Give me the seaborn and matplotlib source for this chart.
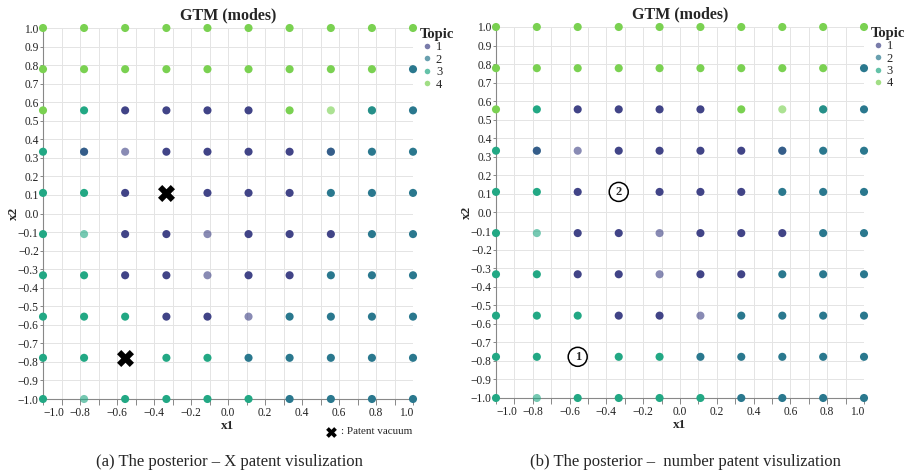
import numpy as np
import pandas as pd
import matplotlib
matplotlib.use("Agg")
import matplotlib.pyplot as plt
import seaborn as sns
from matplotlib.lines import Line2D

# ---------------- data ----------------
grid_x = [-1.0, -0.778, -0.556, -0.333, -0.111, 0.111, 0.333, 0.556, 0.778, 1.0]
grid_y = [1.0, 0.778, 0.556, 0.333, 0.111, -0.111, -0.333, -0.556, -0.778, -1.0]
# modal topic of each GTM node, rows top (x2=1) to bottom (x2=-1); '.' = no point
topic_rows = [
    "4444444444",
    "4444444442",
    "4311114432",
    "3211111222",
    "331.111222",
    "3311111122",
    "3311111222",
    "3331112222",
    "33.3322222",
    "3333332222",
]
# nodes with a weaker (lighter) mode
light_rows = [
    "..........",
    "..........",
    ".......L..",
    "..L.......",
    "..........",
    ".L..L.....",
    "....L.....",
    ".....L....",
    "..........",
    ".L........",
]
# second topic overlapping some nodes
overlap_x = [-0.778, 0.556, 0.778]
overlap_y = [0.333, 0.333, 0.556]
overlap_topic = ["1", "1", "2"]

topics = ["1", "2", "3", "4"]
palette = {"1": "#414487", "2": "#2a788e", "3": "#22a884", "4": "#7ad151"}

vacuum_x = [-0.333, -0.556]
vacuum_y = [0.111, -0.778]

num_x = [-0.556, -0.333]
num_y = [-0.778, 0.111]
num_labels = ["1", "2"]

titles = ["GTM (modes)", "GTM (modes)"]
captions = ["(a) The posterior \u2013 X patent visulization",
            "(b) The posterior \u2013  number patent visulization"]

# -------------- build table --------------
recs = []
for i, row in enumerate(topic_rows):
    for j, ch in enumerate(row):
        if ch == ".":
            continue
        recs.append({"x1": grid_x[j], "x2": grid_y[i], "topic": ch,
                     "light": light_rows[i][j] == "L"})
df = pd.DataFrame(recs)
df_full = df[~df["light"]]
df_light = df[df["light"]]
df_over = pd.DataFrame({"x1": overlap_x, "x2": overlap_y, "topic": overlap_topic})

# -------------- style --------------
sns.set_style("white")
plt.rcParams["font.family"] = ["Liberation Serif", "DejaVu Sans"]
plt.rcParams["axes.unicode_minus"] = True

fig = plt.figure(figsize=(9.11, 4.73), dpi=100)
axes_pos = [
    [43 / 911, 1 - 399 / 473, 370 / 911, 371 / 473],
    [496 / 911, 1 - 398 / 473, 368 / 911, 371 / 473],
]


def fmt(v):
    s = f"{v:.1f}"
    if s == "-0.0":
        s = "0.0"
    return s.replace("-", "\u2212")


ticks = [round(-1 + 0.1 * k, 1) for k in range(21)]

for p, pos in enumerate(axes_pos):
    ax = fig.add_axes(pos)
    common = dict(x="x1", y="x2", hue="topic", palette=palette, hue_order=topics,
                  s=34, linewidth=0, legend=False, ax=ax, clip_on=False, zorder=3)
    sns.scatterplot(data=df_full, **common)
    sns.scatterplot(data=df_light, alpha=0.62, **common)
    sns.scatterplot(data=df_over, alpha=0.5, **common)

    ax.set_xlim(-1, 1)
    ax.set_ylim(-1, 1)
    ax.set_xticks(ticks)
    ax.set_yticks(ticks)
    ax.set_xticklabels([fmt(t) if round(t * 10) % 2 == 0 else "" for t in ticks])
    ax.set_yticklabels([fmt(t) for t in ticks])
    xl = ax.get_xticklabels()
    xl[0].set_ha("left")
    xl[-1].set_ha("right")

    ax.grid(True, color="#e4e4e4", lw=0.7)
    ax.set_axisbelow(True)
    for s in ["top", "right"]:
        ax.spines[s].set_visible(False)
    for s in ["left", "bottom"]:
        ax.spines[s].set_color("#888888")
        ax.spines[s].set_linewidth(0.8)
    ax.tick_params(axis="both", labelsize=8.3, color="#888888",
                   width=0.7, labelcolor="#222222")
    ax.tick_params(axis="x", bottom=True, length=4, pad=1.5)
    ax.tick_params(axis="y", left=True, length=2.5, pad=0.5)

    ax.set_title(titles[p], fontsize=11.5, fontweight="bold", pad=6)
    ax.set_xlabel("x1", fontsize=9.5, fontweight="bold", labelpad=1)
    ax.set_ylabel("x2", fontsize=9.5, fontweight="bold", labelpad=-1.5)

    handles = [Line2D([], [], marker="o", ls="", color=palette[t], alpha=0.7,
                      markersize=4, markeredgewidth=0) for t in topics]
    ax.legend(handles, topics, title="Topic", loc="upper left",
              bbox_to_anchor=(1.018, 1.0), frameon=False, fontsize=9,
              title_fontproperties={"weight": "bold", "size": 10.5},
              handletextpad=0.1, labelspacing=0.03, borderaxespad=0,
              handlelength=1.2, alignment="left", borderpad=0)

    if p == 0:
        ax.scatter(vacuum_x, vacuum_y, marker="X", s=150, color="black",
                   linewidths=0, zorder=5, clip_on=False)
        ax.scatter([0.778], [-0.088], marker="X", s=60, color="black",
                   linewidths=0, transform=ax.transAxes, clip_on=False)
        ax.text(0.805, -0.088, ": Patent vacuum", transform=ax.transAxes,
                fontsize=8, va="center", ha="left")
    else:
        for xx, yy, lab in zip(num_x, num_y, num_labels):
            ax.text(xx, yy, lab, ha="center", va="center", fontsize=9,
                    fontweight="bold", zorder=5,
                    bbox=dict(boxstyle="circle,pad=0.28", fc="white",
                              ec="black", lw=1.1))

fig.text(229 / 911, 1 - 462 / 473, captions[0], ha="center", va="center",
         fontsize=12)
fig.text(685 / 911, 1 - 462 / 473, captions[1], ha="center", va="center",
         fontsize=12)

fig.savefig("out.png", dpi=100, facecolor="white")
